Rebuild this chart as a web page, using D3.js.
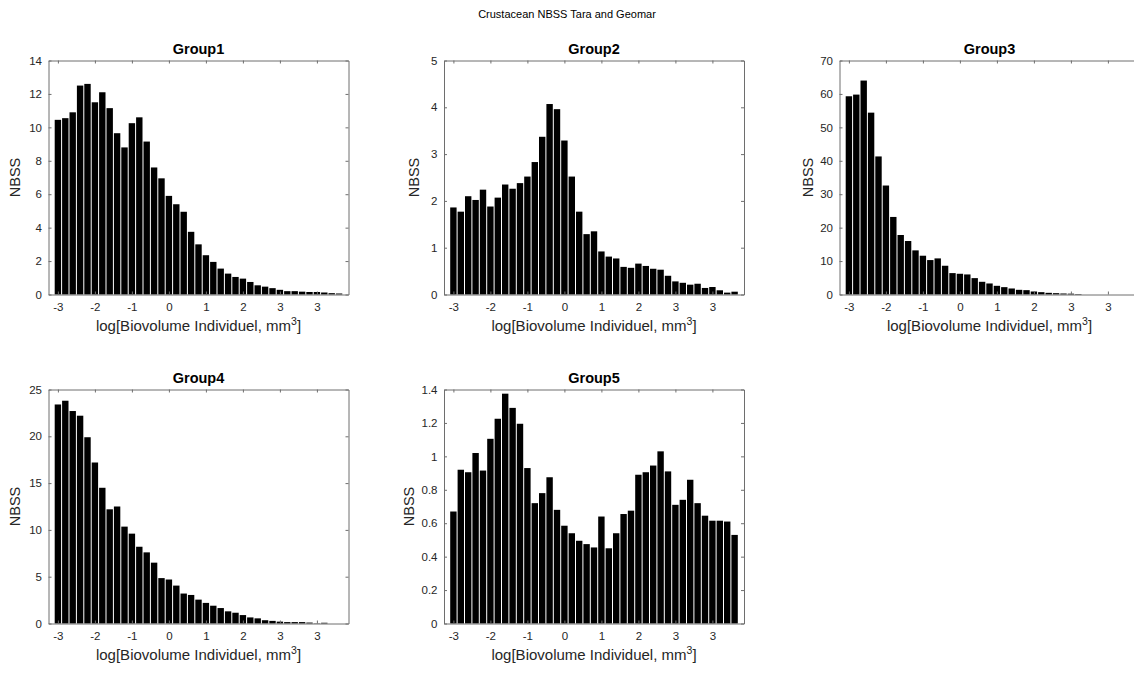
<!DOCTYPE html>
<html>
<head>
<meta charset="utf-8">
<script src="https://cdn.jsdelivr.net/npm/d3@7"></script>
<style>
  html, body { margin: 0; padding: 0; background: #fff; }
  svg { display: block; }
  text { font-family: "Liberation Sans", Arial, Helvetica, sans-serif; }
</style>
</head>
<body>
<div id="chart"></div>
<script>
// ---------------- data ----------------
const mainTitle = "Crustacean NBSS Tara and Geomar";
const panelTitles = ["Group1", "Group2", "Group3", "Group4", "Group5"];
const xTickBins = [0, 5, 10, 15, 20, 25, 30, 35];
const xTickLabels = ["-3", "-2", "-1", "0", "1", "2", "3", "3"];
const xLabelMain = "log[Biovolume Individuel, mm";
const xLabelSup = "3";
const yLabel = "NBSS";

const group1 = [10.45, 10.55, 10.9, 12.5, 12.6, 11.5, 12.1, 11.15, 9.65, 8.8,
  10.25, 10.6, 9.15, 7.6, 6.95, 5.9, 5.4, 4.95, 3.75, 3.0,
  2.35, 1.95, 1.55, 1.25, 1.05, 0.95, 0.75, 0.55, 0.47, 0.38,
  0.28, 0.2, 0.2, 0.17, 0.15, 0.15, 0.12, 0.08, 0.06];
const group2 = [1.86, 1.77, 2.1, 2.02, 2.24, 1.88, 2.07, 2.35, 2.26, 2.38,
  2.52, 2.83, 3.37, 4.07, 3.96, 3.29, 2.52, 1.77, 1.29, 1.35,
  0.92, 0.81, 0.77, 0.59, 0.57, 0.66, 0.61, 0.55, 0.53, 0.40,
  0.28, 0.25, 0.21, 0.23, 0.14, 0.16, 0.09, 0.04, 0.06];
const group3 = [59.3, 59.8, 64.0, 54.4, 41.3, 32.6, 23.2, 17.8, 16.0, 13.2,
  11.6, 10.3, 10.8, 8.6, 6.4, 6.2, 6.0, 4.9, 3.8, 3.3,
  2.6, 2.2, 1.8, 1.4, 1.3, 0.9, 0.7, 0.5, 0.4, 0.3,
  0.25, 0.15, 0, 0, 0, 0, 0, 0, 0];
const group4 = [23.4, 23.8, 22.7, 22.2, 19.9, 17.2, 14.5, 12.2, 12.5, 10.35,
  9.6, 8.2, 7.6, 6.5, 4.85, 4.7, 4.05, 3.2, 3.05, 2.55,
  2.2, 1.9, 1.65, 1.3, 1.15, 0.9, 0.65, 0.55, 0.35, 0.28,
  0.2, 0.15, 0.15, 0.15, 0.1, 0.03, 0.08, 0, 0];
const group5 = [0.67, 0.92, 0.905, 1.02, 0.915, 1.105, 1.225, 1.375, 1.29, 1.195,
  0.93, 0.72, 0.78, 0.875, 0.68, 0.585, 0.54, 0.495, 0.475, 0.455,
  0.64, 0.45, 0.54, 0.655, 0.675, 0.89, 0.905, 0.945, 1.03, 0.91,
  0.71, 0.74, 0.86, 0.72, 0.645, 0.615, 0.615, 0.61, 0.53];

const yTicks1 = [0, 2, 4, 6, 8, 10, 12, 14];
const yTicks2 = [0, 1, 2, 3, 4, 5];
const yTicks3 = [0, 10, 20, 30, 40, 50, 60, 70];
const yTicks4 = [0, 5, 10, 15, 20, 25];
const yTicks5 = [0, 0.2, 0.4, 0.6, 0.8, 1, 1.2, 1.4];

const seriesList = [group1, group2, group3, group4, group5];
const yTickList = [yTicks1, yTicks2, yTicks3, yTicks4, yTicks5];

// ---------------- layout ----------------
const W = 1134, H = 673;
const axW = 300, axH = 234;
const colX = [48.5, 444, 839.5];
const rowY = [60.5, 389.5];
const panelPos = [[0, 0], [1, 0], [2, 0], [0, 1], [1, 1]];
const yLabelOffset = [-29, -25, -27, -29, -30];

const svg = d3.select("#chart").append("svg")
  .attr("width", W).attr("height", H)
  .attr("viewBox", `0 0 ${W} ${H}`);
svg.append("rect").attr("width", W).attr("height", H).attr("fill", "#fff");

svg.append("text")
  .attr("x", 567).attr("y", 18)
  .attr("text-anchor", "middle")
  .attr("font-size", 11)
  .attr("fill", "#000")
  .text(mainTitle);

const axisColor = "#6e6e6e";
const textColor = "#262626";
const nBins = group1.length;

seriesList.forEach((values, k) => {
  const [c, r] = panelPos[k];
  const g = svg.append("g").attr("transform", `translate(${colX[c]},${rowY[r]})`);
  const ticks = yTickList[k];
  const yMax = ticks[ticks.length - 1];

  const x = d3.scaleLinear().domain([-1.27, nBins - 1 + 1.27]).range([0, axW]);
  const y = d3.scaleLinear().domain([0, yMax]).range([axH, 0]);
  const pitch = x(1) - x(0);

  // bars
  g.append("g").selectAll("rect")
    .data(values)
    .join("rect")
    .attr("x", (d, i) => x(i - 0.5) + 0.5)
    .attr("width", pitch - 1)
    .attr("y", d => y(d))
    .attr("height", d => Math.max(0, y(0) - y(d)))
    .attr("fill", "#000");

  // axes (MATLAB-like box with inward ticks)
  const tickLen = 3;
  const fmt = v => (Math.round(v * 10) / 10).toString();

  const yAxisL = d3.axisLeft(y).tickValues(ticks).tickFormat(fmt).tickSizeInner(-tickLen).tickSizeOuter(0).tickPadding(6.5);
  const yAxisR = d3.axisRight(y).tickValues(ticks).tickFormat("").tickSizeInner(-tickLen).tickSizeOuter(0);
  const xAxisB = d3.axisBottom(x).tickValues(xTickBins).tickFormat((d, i) => xTickLabels[i]).tickSizeInner(-tickLen).tickSizeOuter(0).tickPadding(8);
  const xAxisT = d3.axisTop(x).tickValues(xTickBins).tickFormat("").tickSizeInner(-tickLen).tickSizeOuter(0);

  const styleAxis = sel => {
    sel.selectAll("path.domain").attr("stroke", axisColor).attr("stroke-width", 1);
    sel.selectAll(".tick line").attr("stroke", axisColor).attr("stroke-width", 1);
    sel.selectAll(".tick text").attr("fill", textColor).attr("font-size", 11.5)
      .attr("font-family", '"Liberation Sans", Arial, Helvetica, sans-serif');
  };

  g.append("g").call(yAxisL).call(styleAxis);
  g.append("g").attr("transform", `translate(${axW},0)`).call(yAxisR).call(styleAxis);
  g.append("g").attr("transform", `translate(0,${axH})`).call(xAxisB).call(styleAxis);
  g.append("g").call(xAxisT).call(styleAxis);

  // panel title
  g.append("text")
    .attr("x", axW / 2).attr("y", -6.5)
    .attr("text-anchor", "middle")
    .attr("font-size", 14.5)
    .attr("font-weight", "bold")
    .attr("fill", "#000")
    .text(panelTitles[k]);

  // y label
  g.append("text")
    .attr("transform", `translate(${yLabelOffset[k]},${axH / 2}) rotate(-90)`)
    .attr("text-anchor", "middle")
    .attr("font-size", 14.5)
    .attr("fill", textColor)
    .text(yLabel);

  // x label with superscript
  const xl = g.append("text")
    .attr("x", axW / 2).attr("y", axH + 36.5)
    .attr("text-anchor", "middle")
    .attr("font-size", 15)
    .attr("fill", textColor);
  xl.append("tspan").text(xLabelMain);
  xl.append("tspan").attr("font-size", 10.5).attr("dy", -6.5).text(xLabelSup);
  xl.append("tspan").attr("dy", 6.5).text("]");
});
</script>
</body>
</html>
